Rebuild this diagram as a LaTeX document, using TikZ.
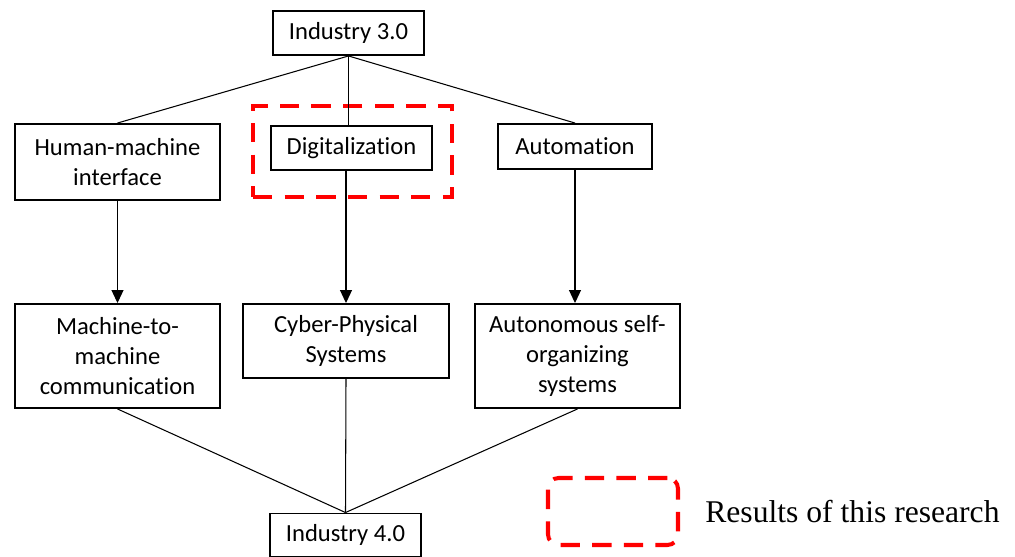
\documentclass[tikz,border=0pt]{standalone}
\usepackage{fontspec}
\setmainfont{Carlito}[Ligatures={NoCommon}]
\newfontfamily\legendfont{Liberation Serif}
\usetikzlibrary{arrows.meta,positioning}
\tikzset{
 box/.style={draw,line width=1.1pt,align=center,inner sep=2pt,
             font=\fontsize{14pt}{17pt}\selectfont},
 arrow/.style={-{Triangle[length=2.6mm,width=2.4mm]},line width=0.6pt},
 link/.style={line width=0.6pt},
 redbox/.style={draw=red,line width=2.3pt,dash pattern=on 11pt off 7pt}
}

\begin{document}
\begin{tikzpicture}[x=0.02cm,y=-0.02cm]
\useasboundingbox (0,0) rectangle (1015,557);
% top level
\node[box,minimum width=3.02cm,minimum height=0.88cm] (i3) at (348.5,33) {Industry 3.0};
% middle row
\node[box,minimum width=4.1cm,minimum height=1.52cm] (hmi) at (117.5,162) {Human-machine\\interface};
\node[box,minimum width=3.22cm,minimum height=0.88cm] (dig) at (351.5,148) {Digitalization};
\node[box,minimum width=3.08cm,minimum height=0.9cm] (aut) at (575,146.5) {Automation};
% lower row
\node[box,minimum width=4.1cm,minimum height=2.08cm] (m2m) at (117.5,356) {Machine-to-\\machine\\communication};
\node[box,minimum width=4.12cm,minimum height=1.48cm] (cps) at (346,341) {Cyber-Physical\\Systems};
\node[box,minimum width=4.1cm,minimum height=2.08cm] (aso) at (577.5,356) {Autonomous self-\\organizing\\systems};
% bottom level
\node[box,minimum width=3.02cm,minimum height=0.86cm] (i4) at (345.5,535) {Industry 4.0};

% marked result and legend
\node[redbox,minimum width=3.98cm,minimum height=1.82cm] (res) at (352.5,151.5) {};
\node[redbox,rounded corners=6pt,minimum width=2.6cm,minimum height=1.34cm] (key) at (613,511.5) {};
\node[right=0.5cm of key,font=\legendfont\fontsize{18pt}{21pt}\selectfont,inner sep=0pt] (keytext) {Results of this research};

\draw[link] (i3.south) -- (hmi.north);
\draw[link] (i3.south) -- (dig.north -| i3.south);
\draw[link] (i3.south) -- (aut.north);
\draw[arrow] (hmi) -- (m2m);
\draw[arrow] (dig.south -| cps.north) -- (cps);
\draw[arrow] (aut) -- (aut |- aso.north);
\draw[link] (m2m.south) -- (i4.north);
\draw[link] (cps.south) -- (i4.north);
\draw[link] (aso.south) -- (i4.north);
\end{tikzpicture}
\end{document}
